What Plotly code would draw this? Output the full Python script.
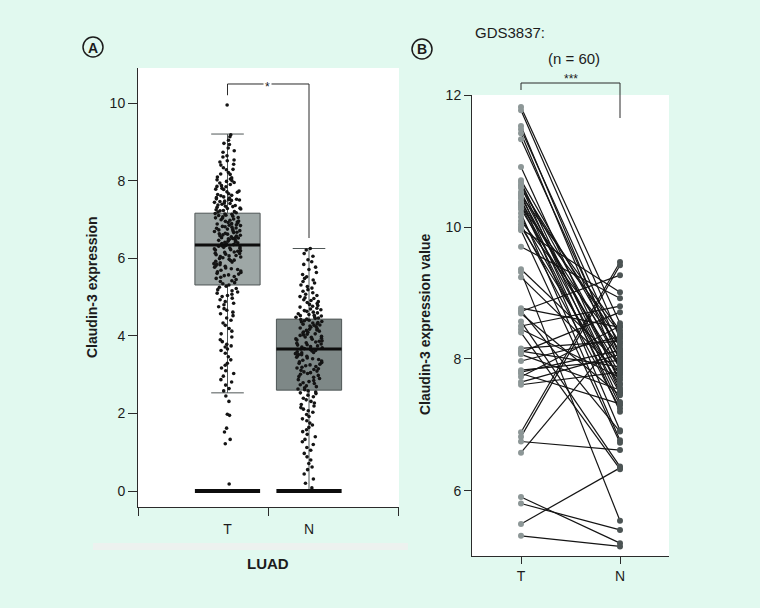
import plotly.graph_objects as go

# ---- panel A : CLDN3 expression in LUAD, tumour (T) vs normal (N) ----
groups = ["T", "N"]
box_q1 = [5.31, 2.60]
box_median = [6.34, 3.66]
box_q3 = [7.16, 4.43]
box_low = [2.53, 0.0]
box_high = [9.20, 6.25]
zero_level = [0.0, 0.0]
box_fill = ["#9ea7a6", "#7e8887"]

t_expr = [
    9.95, 9.18, 9.13, 9.04,
    8.96, 8.93, 8.84, 8.77, 8.73, 8.64, 8.61, 8.53, 8.51,
    8.48, 8.42, 8.40, 8.33, 8.29, 8.28, 8.21, 8.17, 8.16, 8.09, 8.07, 8.04, 8.02, 8.00,
    7.98, 7.95, 7.94, 7.90, 7.87, 7.85, 7.84, 7.80, 7.78, 7.77, 7.73, 7.71, 7.70, 7.66,
    7.64, 7.62, 7.61, 7.58, 7.56, 7.55, 7.53, 7.52, 7.51, 7.50,
    7.49, 7.47, 7.46, 7.44, 7.42, 7.41, 7.39, 7.37, 7.36, 7.34, 7.33, 7.31, 7.29, 7.28,
    7.27, 7.25, 7.23, 7.22, 7.20, 7.19, 7.17, 7.15, 7.14, 7.13, 7.11, 7.10, 7.08, 7.07,
    7.05, 7.04, 7.03, 7.01,
    6.99, 6.98, 6.96, 6.95, 6.93, 6.92, 6.91, 6.89, 6.88, 6.86, 6.85, 6.84, 6.82, 6.81,
    6.80, 6.78, 6.77, 6.75, 6.74, 6.73, 6.71, 6.70, 6.69, 6.67, 6.66, 6.64, 6.63, 6.62,
    6.60, 6.59, 6.58, 6.57, 6.55, 6.54, 6.53, 6.52, 6.51, 6.50,
    6.49, 6.48, 6.46, 6.45, 6.44, 6.42, 6.41, 6.40, 6.38, 6.37, 6.36, 6.35, 6.33, 6.32,
    6.31, 6.29, 6.28, 6.26, 6.25, 6.24, 6.22, 6.21, 6.19, 6.18, 6.16, 6.15, 6.13, 6.12,
    6.10, 6.09, 6.07, 6.06, 6.04, 6.03, 6.01,
    5.99, 5.97, 5.95, 5.94, 5.92, 5.90, 5.88, 5.86, 5.85, 5.83, 5.81, 5.79, 5.77, 5.75,
    5.73, 5.71, 5.69, 5.67, 5.65, 5.63, 5.61, 5.59, 5.57, 5.55, 5.53, 5.51,
    5.48, 5.45, 5.42, 5.40, 5.37, 5.34, 5.31, 5.28, 5.25, 5.22, 5.19, 5.16, 5.13, 5.10,
    5.07, 5.04, 5.01,
    4.97, 4.93, 4.88, 4.84, 4.80, 4.75, 4.70, 4.66, 4.61, 4.57, 4.52,
    4.46, 4.40, 4.33, 4.27, 4.19, 4.12, 4.05,
    3.97, 3.90, 3.85, 3.78, 3.74, 3.71, 3.66, 3.62, 3.55,
    3.46, 3.38, 3.29, 3.24, 3.17, 3.10, 3.03,
    2.96, 2.87, 2.81, 2.73, 2.64, 2.58,
    2.45, 2.31,
    1.98, 1.95, 1.62, 1.52, 1.33, 1.22, 0.18,
]

n_expr = [
    6.25, 6.21, 6.12, 6.05,
    5.96, 5.91, 5.84, 5.77, 5.71, 5.63, 5.58, 5.52,
    5.48, 5.44, 5.40, 5.36, 5.31, 5.27, 5.23, 5.19, 5.15, 5.11, 5.07, 5.04, 5.01,
    4.98, 4.96, 4.93, 4.91, 4.88, 4.86, 4.83, 4.81, 4.78, 4.76, 4.74, 4.71, 4.69, 4.67,
    4.65, 4.63, 4.61, 4.59, 4.57, 4.55, 4.53, 4.52, 4.51,
    4.49, 4.48, 4.46, 4.45, 4.43, 4.42, 4.40, 4.39, 4.37, 4.36, 4.34, 4.33, 4.31, 4.30,
    4.28, 4.27, 4.25, 4.23, 4.22, 4.20, 4.18, 4.17, 4.15, 4.14, 4.12, 4.10, 4.09, 4.07,
    4.05, 4.04, 4.02, 4.01,
    3.99, 3.97, 3.96, 3.94, 3.92, 3.91, 3.89, 3.87, 3.86, 3.84, 3.82, 3.81, 3.79, 3.77,
    3.76, 3.74, 3.72, 3.71, 3.69, 3.67, 3.66, 3.64, 3.62, 3.61, 3.59, 3.57, 3.56, 3.54,
    3.52, 3.51,
    3.49, 3.47, 3.45, 3.43, 3.41, 3.39, 3.37, 3.35, 3.33, 3.31, 3.29, 3.27, 3.25, 3.23,
    3.21, 3.19, 3.17, 3.15, 3.13, 3.11, 3.09, 3.07, 3.05, 3.03, 3.01,
    2.98, 2.95, 2.93, 2.90, 2.87, 2.85, 2.82, 2.79, 2.77, 2.74, 2.71, 2.69, 2.66, 2.63,
    2.61, 2.58, 2.55, 2.53, 2.51,
    2.47, 2.43, 2.39, 2.35, 2.31, 2.27, 2.23, 2.19, 2.15, 2.11, 2.07, 2.03,
    1.97, 1.92, 1.86, 1.81, 1.75, 1.70, 1.64, 1.58, 1.53,
    1.46, 1.40, 1.33, 1.27, 1.20, 1.12, 1.05,
    0.97, 0.88, 0.80, 0.71, 0.62, 0.55,
    0.44, 0.31, 0.20, 0.08,
]

# ---- panel B : GDS3837 paired samples (n = 60) ----
gds_tumor = [
    11.82, 11.77, 11.53, 11.48, 11.42, 11.33, 10.91, 10.71, 10.68, 10.64,
    10.62, 10.59, 10.53, 10.50, 10.48, 10.45, 10.43, 10.38, 10.36, 10.33,
    10.30, 10.27, 10.21, 10.15, 10.09, 10.04, 10.00, 9.97, 9.95, 9.70,
    9.36, 9.32, 9.24, 8.77, 8.73, 8.72, 8.69, 8.57, 8.50, 8.45,
    8.40, 8.16, 8.12, 8.10, 8.07, 7.97, 7.83, 7.80, 7.78, 7.73,
    7.65, 7.61, 6.89, 6.82, 6.75, 6.58, 5.91, 5.81, 5.50, 5.32,
]
gds_normal = [
    8.54, 8.31, 7.96, 8.16, 7.83, 8.04, 7.63, 8.10, 7.50, 7.91,
    7.35, 8.24, 7.68, 7.20, 8.43, 7.76, 6.92, 8.01, 7.56, 7.30,
    8.39, 7.86, 6.77, 7.48, 8.20, 7.25, 7.61, 9.01, 6.73, 8.92,
    7.93, 5.55, 7.78, 8.48, 6.90, 9.27, 7.45, 6.37, 8.80, 7.72,
    6.33, 8.27, 7.88, 8.71, 7.53, 8.34, 7.98, 8.13, 7.32, 8.50,
    8.07, 7.80, 9.47, 9.42, 6.62, 8.37, 5.21, 5.41, 6.35, 5.16,
]

W, H = 760, 608
BG = "#e1f9ef"
INK = "#1c1c1c"
FONT = "Liberation Sans, Arial, sans-serif"


def px(x):
    return x / W


def py(y):
    return 1 - y / H


fig = go.Figure()

# boxes
for i, g in enumerate(groups):
    fig.add_trace(go.Box(
        x=[i], q1=[box_q1[i]], median=[box_median[i]], q3=[box_q3[i]],
        lowerfence=[box_low[i]], upperfence=[box_high[i]],
        width=0.8, whiskerwidth=0.5, boxpoints=False,
        fillcolor=box_fill[i], line=dict(color="#4f5656", width=1),
        xaxis="x", yaxis="y", showlegend=False, hoverinfo="skip",
    ))

# jittered samples
for i, vals in enumerate([t_expr, n_expr]):
    fig.add_trace(go.Box(
        y=vals, x0=i, width=0.8, boxpoints="all", jitter=0.42, pointpos=0,
        fillcolor="rgba(0,0,0,0)", line=dict(color="rgba(0,0,0,0)"),
        marker=dict(color="#141414", size=3.6),
        xaxis="x", yaxis="y", showlegend=False, hoverinfo="skip",
    ))

# samples at zero and the medians, drawn as flat boxes
for level, lw in [(zero_level, 4), (box_median, 3)]:
    fig.add_trace(go.Box(
        x=[0, 1], q1=level, median=level, q3=level, lowerfence=level, upperfence=level,
        width=0.8, whiskerwidth=0, boxpoints=False,
        fillcolor="rgba(0,0,0,0)", line=dict(color="#0d0d0d", width=lw),
        xaxis="x", yaxis="y", showlegend=False, hoverinfo="skip",
    ))

# panel B paired lines
lx, ly = [], []
for t, n in zip(gds_tumor, gds_normal):
    lx += [0, 1, None]
    ly += [t, n, None]
fig.add_trace(go.Scatter(
    x=lx, y=ly, mode="lines", line=dict(color="#141414", width=1.2),
    xaxis="x2", yaxis="y2", showlegend=False, hoverinfo="skip",
))
fig.add_trace(go.Scatter(
    x=[0] * len(gds_tumor), y=gds_tumor, mode="markers",
    marker=dict(color="#8d9797", size=6),
    xaxis="x2", yaxis="y2", showlegend=False, cliponaxis=False,
))
fig.add_trace(go.Scatter(
    x=[1] * len(gds_normal), y=gds_normal, mode="markers",
    marker=dict(color="#4c5454", size=6),
    xaxis="x2", yaxis="y2", showlegend=False, cliponaxis=False,
))

ax_common = dict(showline=True, linecolor="#2b2b2b", linewidth=1, showgrid=False,
                 zeroline=False, tickcolor="#2b2b2b", automargin=False,
                 tickfont=dict(family=FONT, size=14, color=INK))

xr = [-1.098, 2.104]
xmid = (xr[0] + xr[1]) / 2
fig.update_layout(
    width=W, height=H, autosize=False,
    margin=dict(l=0, r=0, t=0, b=0, pad=0),
    paper_bgcolor=BG, plot_bgcolor="white",
    boxmode="overlay",
    font=dict(family=FONT, color=INK),
    xaxis=dict(domain=[px(138), px(399)], range=xr, anchor="y",
               tickmode="array", tickvals=[0, 1], ticktext=groups, ticks="",
               ticklabelstandoff=9,
               minor=dict(tickmode="array", tickvals=[xr[0] + 0.004, xmid, xr[1] - 0.004],
                          ticks="outside", ticklen=8, tickcolor="#2b2b2b"),
               **ax_common),
    yaxis=dict(domain=[py(507), py(68)], range=[-0.412, 10.902], anchor="x",
               tickmode="array", tickvals=[0, 2, 4, 6, 8, 10], ticks="outside", ticklen=9,
               **ax_common),
    xaxis2=dict(domain=[px(472), px(669)], range=[-0.495, 1.495], anchor="y2",
                tickmode="array", tickvals=[0, 1], ticktext=groups, ticks="outside", ticklen=7,
                **ax_common),
    yaxis2=dict(domain=[py(556), py(95)], range=[5.015, 12.0], anchor="x2",
                tickmode="array", tickvals=[6, 8, 10, 12], ticks="outside", ticklen=7,
                **ax_common),
)

line = dict(color="#2b2b2b", width=1)
shapes = [
    # faint band under panel A axis
    dict(type="rect", xref="paper", yref="paper", x0=px(93), x1=px(408), y0=py(550), y1=py(543),
         fillcolor="#edf2ef", line=dict(width=0), layer="below"),
    # significance bracket A
    dict(type="path", xref="x", yref="y", path="M 0,10.2 L 0,10.49 L 1,10.49 L 1,6.52", line=line),
    # significance bracket B
    dict(type="path", xref="x2", yref="paper",
         path=f"M 0,{py(90)} L 0,{py(83)} L 1,{py(83)} L 1,{py(118)}", line=line),
    # circled panel letters
    dict(type="circle", xref="paper", yref="paper", x0=px(83), x1=px(103), y0=py(57), y1=py(37),
         line=dict(color=INK, width=1.5)),
    dict(type="circle", xref="paper", yref="paper", x0=px(412), x1=px(432), y0=py(59), y1=py(39),
         line=dict(color=INK, width=1.5)),
]
fig.update_layout(shapes=shapes)


def note(text, x, y, size=14, bold=False, angle=0, xanchor="center", bg=None):
    fig.add_annotation(
        text=f"<b>{text}</b>" if bold else text, xref="paper", yref="paper",
        x=px(x), y=py(y), xanchor=xanchor, yanchor="middle", showarrow=False,
        textangle=angle, font=dict(family=FONT, size=size, color=INK),
        bgcolor=bg, borderpad=1,
    )


note("A", 93, 47.5, size=14, bold=True)
note("B", 422, 49.5, size=14, bold=True)
note("Claudin-3 expression", 92, 287, bold=True, angle=-90)
note("LUAD", 268, 563, size=15, bold=True)
note("*", 267.5, 87, size=12, bg="white")
note("Claudin-3 expression value", 425, 325, bold=True, angle=-90)
note("GDS3837:", 473, 33, size=15, xanchor="left")
note("(n = 60)", 574, 58, size=15)
note("***", 570.5, 79, size=12)

# the page body has a default 8px margin; drop it so the figure sits at the window origin
fix_page = (
    "document.body.style.margin='0';"
    "document.body.style.overflow='hidden';"
    "Plotly.relayout(document.getElementById('{plot_id}'), {width: 760, height: 608});"
)
fig.write_html("out.html", post_script=fix_page, config={"displayModeBar": False})
